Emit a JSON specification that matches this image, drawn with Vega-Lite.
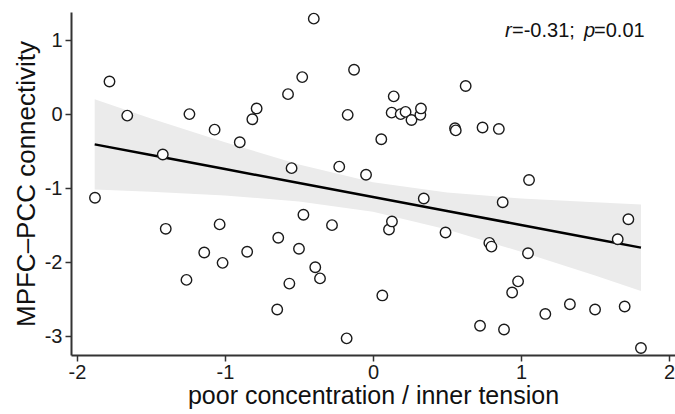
{
  "$schema": "https://vega.github.io/schema/vega-lite/v6.json",
  "width": 604,
  "height": 343,
  "autosize": {"type": "none"},
  "padding": {"left": 71, "top": 12, "right": 0, "bottom": 59},
  "background": "white",
  "config": {
    "view": {"stroke": null},
    "font": "Liberation Sans",
    "axis": {
      "grid": false,
      "domainColor": "#333333",
      "domainWidth": 2,
      "tickColor": "#333333",
      "tickWidth": 1.5,
      "tickSize": 6,
      "labelColor": "#1a1a1a",
      "labelFont": "Liberation Sans",
      "labelFontSize": 20,
      "labelExpr": "datum.value < 0 ? '-' + abs(datum.value) : '' + datum.value",
      "titleFont": "Liberation Sans",
      "titleFontSize": 25,
      "titleFontWeight": "normal",
      "titleColor": "#111111"
    }
  },
  "datasets": {
    "pts": [
      {"x": -1.878, "y": -1.13}, {"x": -1.78, "y": 0.44}, {"x": -1.66, "y": -0.02}, {"x": -1.42, "y": -0.545},
      {"x": -1.40, "y": -1.55}, {"x": -1.26, "y": -2.24}, {"x": -1.24, "y": 0.0}, {"x": -1.14, "y": -1.87},
      {"x": -1.07, "y": -0.21}, {"x": -1.036, "y": -1.49}, {"x": -1.016, "y": -2.01}, {"x": -0.90, "y": -0.38},
      {"x": -0.85, "y": -1.86}, {"x": -0.815, "y": -0.07}, {"x": -0.786, "y": 0.077}, {"x": -0.647, "y": -2.64},
      {"x": -0.64, "y": -1.67}, {"x": -0.574, "y": 0.27}, {"x": -0.565, "y": -2.29}, {"x": -0.55, "y": -0.73},
      {"x": -0.50, "y": -1.82}, {"x": -0.478, "y": 0.50}, {"x": -0.47, "y": -1.36}, {"x": -0.40, "y": 1.29},
      {"x": -0.39, "y": -2.07}, {"x": -0.358, "y": -2.22}, {"x": -0.277, "y": -1.50}, {"x": -0.228, "y": -0.71},
      {"x": -0.178, "y": -3.03}, {"x": -0.171, "y": -0.01}, {"x": -0.128, "y": 0.60}, {"x": -0.047, "y": -0.82},
      {"x": 0.056, "y": -0.34}, {"x": 0.063, "y": -2.45}, {"x": 0.108, "y": -1.56}, {"x": 0.126, "y": 0.02},
      {"x": 0.128, "y": -1.45}, {"x": 0.14, "y": 0.24}, {"x": 0.187, "y": 0.0}, {"x": 0.22, "y": 0.03},
      {"x": 0.26, "y": -0.08}, {"x": 0.32, "y": -0.01}, {"x": 0.324, "y": 0.077}, {"x": 0.343, "y": -1.14},
      {"x": 0.49, "y": -1.60}, {"x": 0.554, "y": -0.19}, {"x": 0.559, "y": -0.22}, {"x": 0.626, "y": 0.38},
      {"x": 0.723, "y": -2.86}, {"x": 0.74, "y": -0.18}, {"x": 0.786, "y": -1.74}, {"x": 0.80, "y": -1.79},
      {"x": 0.85, "y": -0.20}, {"x": 0.876, "y": -1.19}, {"x": 0.885, "y": -2.91}, {"x": 0.94, "y": -2.41},
      {"x": 0.98, "y": -2.26}, {"x": 1.047, "y": -1.88}, {"x": 1.054, "y": -0.89}, {"x": 1.164, "y": -2.70},
      {"x": 1.33, "y": -2.57}, {"x": 1.50, "y": -2.64}, {"x": 1.653, "y": -1.69}, {"x": 1.70, "y": -2.60},
      {"x": 1.725, "y": -1.42}, {"x": 1.81, "y": -3.16}
    ],
    "band": [
      {"x": -1.88, "fit": -0.409, "lo": -1.02, "hi": 0.20},
      {"x": -1.5, "fit": -0.553, "lo": -1.05, "hi": -0.06},
      {"x": -1.0, "fit": -0.742, "lo": -1.10, "hi": -0.38},
      {"x": -0.5, "fit": -0.931, "lo": -1.18, "hi": -0.68},
      {"x": 0.0, "fit": -1.12, "lo": -1.32, "hi": -0.92},
      {"x": 0.5, "fit": -1.309, "lo": -1.56, "hi": -1.06},
      {"x": 1.0, "fit": -1.498, "lo": -1.86, "hi": -1.14},
      {"x": 1.5, "fit": -1.687, "lo": -2.18, "hi": -1.19},
      {"x": 1.81, "fit": -1.804, "lo": -2.39, "hi": -1.22}
    ]
  },
  "layer": [
    {
      "data": {"name": "band"},
      "mark": {"type": "area", "color": "#ebebeb", "opacity": 1},
      "encoding": {
        "x": {"field": "x", "type": "quantitative", "scale": {"domain": [-2.04, 2.04], "nice": false, "zero": false},
              "axis": {"values": [-2, -1, 0, 1, 2], "title": "poor concentration / inner tension", "labelPadding": 1, "titlePadding": 1}},
        "y": {"field": "lo", "type": "quantitative", "scale": {"domain": [-3.255, 1.38], "nice": false, "zero": false},
              "axis": {"values": [-3, -2, -1, 0, 1], "title": "MPFC–PCC connectivity", "labelPadding": 3, "titlePadding": 5, "titleFontSize": 26}},
        "y2": {"field": "hi"}
      }
    },
    {
      "data": {"name": "band"},
      "mark": {"type": "line", "color": "#000000", "strokeWidth": 2.5},
      "encoding": {
        "x": {"field": "x", "type": "quantitative"},
        "y": {"field": "fit", "type": "quantitative"}
      }
    },
    {
      "data": {"name": "pts"},
      "mark": {"type": "point", "shape": "circle", "filled": false, "fill": "white", "fillOpacity": 1, "stroke": "#1a1a1a", "strokeWidth": 1.4, "opacity": 1, "size": 110},
      "encoding": {
        "x": {"field": "x", "type": "quantitative"},
        "y": {"field": "y", "type": "quantitative"}
      }
    },
    {
      "data": {"values": [{"x": 0.892, "y": 1.04, "label": "r"}, {"x": 1.426, "y": 1.04, "label": "p"}]},
      "mark": {"type": "text", "fontStyle": "italic", "align": "left", "baseline": "alphabetic", "fontSize": 20, "font": "Liberation Sans", "color": "#111111"},
      "encoding": {
        "x": {"field": "x", "type": "quantitative"},
        "y": {"field": "y", "type": "quantitative"},
        "text": {"field": "label"}
      }
    },
    {
      "data": {"values": [{"x": 0.939, "y": 1.04, "label": "=-0.31;"}, {"x": 1.493, "y": 1.04, "label": "=0.01"}]},
      "mark": {"type": "text", "align": "left", "baseline": "alphabetic", "fontSize": 20, "font": "Liberation Sans", "color": "#111111"},
      "encoding": {
        "x": {"field": "x", "type": "quantitative"},
        "y": {"field": "y", "type": "quantitative"},
        "text": {"field": "label"}
      }
    }
  ]
}
